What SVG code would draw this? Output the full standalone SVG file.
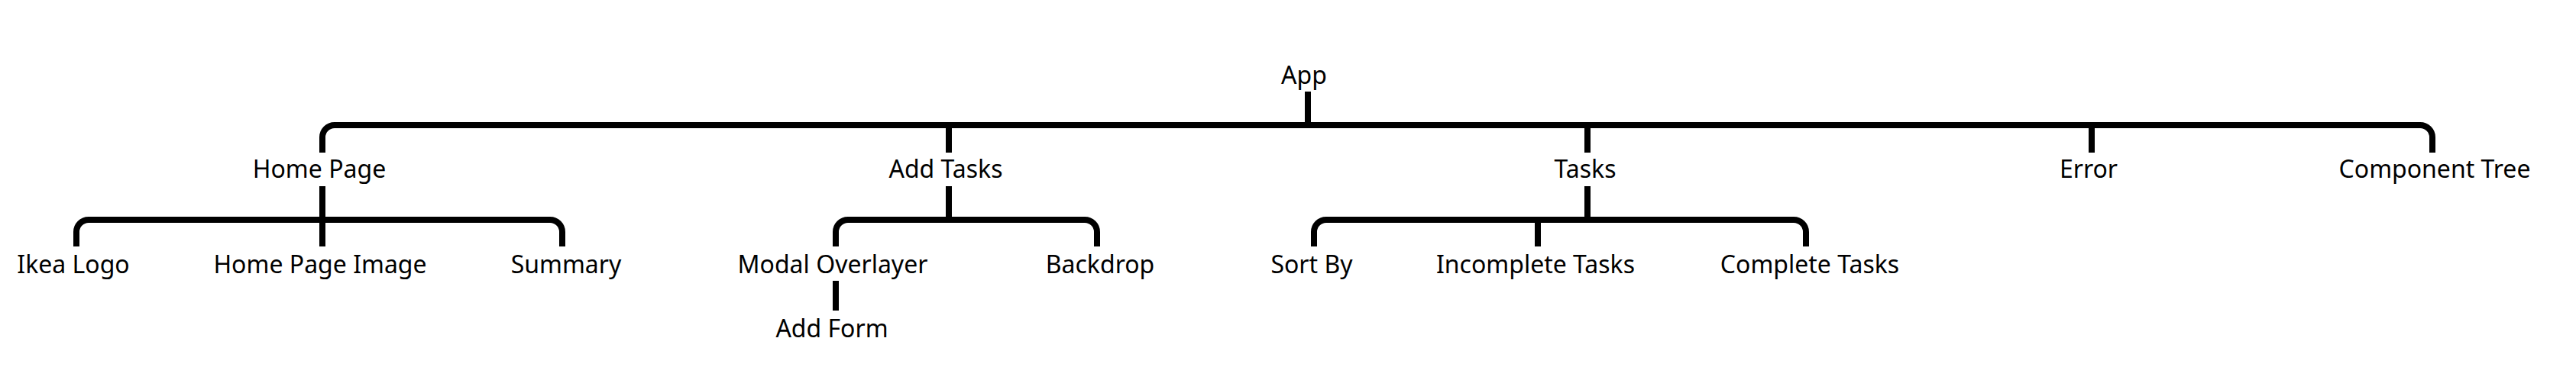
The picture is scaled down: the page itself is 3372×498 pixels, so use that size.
<svg xmlns="http://www.w3.org/2000/svg" width="3372" height="498" viewBox="0 0 3372 498">
<style>
text { font-family: "Noto Sans", "Open Sans", sans-serif; font-size: 32px; fill: #000; text-anchor: middle; }
.c { fill: none; stroke: #000; stroke-width: 8; stroke-linecap: butt; stroke-linejoin: round; }
</style>
<rect width="3372" height="498" fill="#fff"/>
<g id="connectors">
<path class="c" d="M1712 120 V164"/>
<path class="c" d="M422 200 V180 A16 16 0 0 1 438 164 H3168 A16 16 0 0 1 3184 180 V200"/>
<path class="c" d="M1242 164 V200"/>
<path class="c" d="M2078 164 V200"/>
<path class="c" d="M2738 164 V200"/>
<path class="c" d="M100 323 V304 A16 16 0 0 1 116 288 H720 A16 16 0 0 1 736 304 V323"/>
<path class="c" d="M422 244 V323"/>
<path class="c" d="M1094 323 V304 A16 16 0 0 1 1110 288 H1420 A16 16 0 0 1 1436 304 V323"/>
<path class="c" d="M1242 244 V288"/>
<path class="c" d="M1720 323 V304 A16 16 0 0 1 1736 288 H2348 A16 16 0 0 1 2364 304 V323"/>
<path class="c" d="M2078 244 V288"/>
<path class="c" d="M2013 288 V323"/>
<path class="c" d="M1094 368 V407"/>
</g>
<g id="app"><text x="1707" y="110">App</text></g>
<g id="home-page"><text x="418" y="233">Home Page</text></g>
<g id="add-tasks"><text x="1238" y="233">Add Tasks</text></g>
<g id="tasks"><text x="2075" y="233">Tasks</text></g>
<g id="error"><text x="2734" y="233">Error</text></g>
<g id="component-tree"><text x="3187" y="233">Component Tree</text></g>
<g id="ikea-logo"><text x="96" y="358">Ikea Logo</text></g>
<g id="home-page-image"><text x="419" y="358">Home Page Image</text></g>
<g id="summary"><text x="741" y="358">Summary</text></g>
<g id="modal-overlayer"><text x="1090" y="358">Modal Overlayer</text></g>
<g id="backdrop"><text x="1440" y="358">Backdrop</text></g>
<g id="sort-by"><text x="1717" y="358">Sort By</text></g>
<g id="incomplete-tasks"><text x="2010" y="358">Incomplete Tasks</text></g>
<g id="complete-tasks"><text x="2369" y="358">Complete Tasks</text></g>
<g id="add-form"><text x="1089" y="442">Add Form</text></g>
</svg>
